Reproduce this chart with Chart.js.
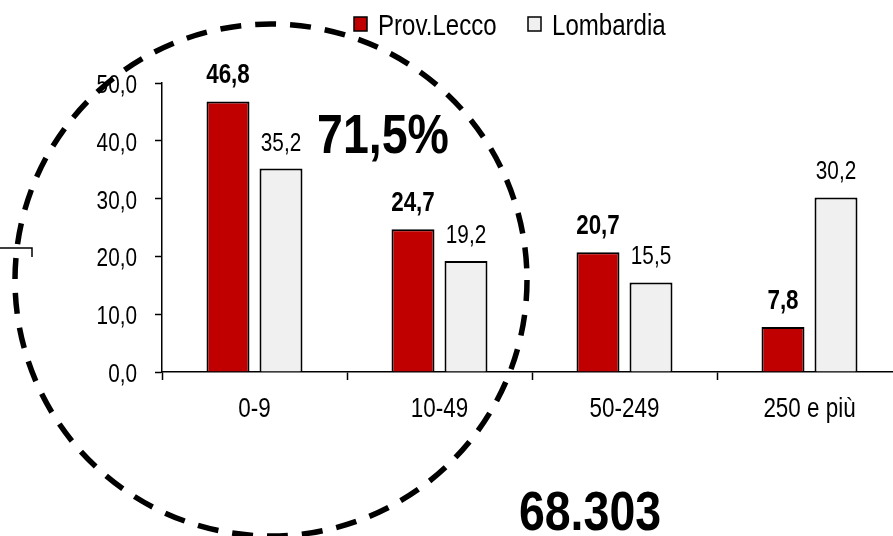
<!DOCTYPE html>
<html lang="it">
<head>
  <meta charset="UTF-8" />
  <title>Imprese per classe di addetti</title>
  <script src="https://cdn.jsdelivr.net/npm/chart.js"></script>
  <style>
    html, body {
      margin: 0;
      padding: 0;
      background: #ffffff;
      overflow: hidden;
    }
    #wrap {
      width: 902px;
      height: 536px;
    }
  </style>
</head>
<body>
  <div id="wrap"><canvas id="chart" width="902" height="536"></canvas></div>

  <script>
    const categories = ['0-9', '10-49', '50-249', '250 e più'];
    const lecco = [46.8, 24.7, 20.7, 7.8];
    const lombardia = [35.2, 19.2, 15.5, 30.2];
    const seriesNames = ['Prov.Lecco', 'Lombardia'];
    const yMin = 0, yMax = 50, yStep = 10;
    const shareText = '71,5%';
    const totalText = '68.303';

    // no Arial Narrow here: Liberation Sans squeezed horizontally
    const FONT = "'Liberation Sans', Arial, sans-serif";
    const NARROW = 0.83;
    const RED = '#C00000';
    const GREY = '#F0F0F0';

    const fmt = v => v.toFixed(1).replace('.', ',');

    function narrowText(ctx, text, x, y, font, align) {
      ctx.save();
      ctx.font = font;
      ctx.textAlign = align;
      ctx.textBaseline = 'alphabetic';
      ctx.fillStyle = '#000';
      ctx.translate(x, y);
      ctx.scale(NARROW, 1);
      ctx.fillText(text, 0, 0);
      ctx.restore();
    }

    // value labels above bars, axis labels
    const labels = {
      id: 'labels',
      afterDatasetsDraw(chart) {
        const ctx = chart.ctx;
        chart.data.datasets.forEach((ds, i) => {
          const font = i === 0 ? 'bold 27px ' + FONT : '25px ' + FONT;
          chart.getDatasetMeta(i).data.forEach((bar, j) => {
            narrowText(ctx, fmt(ds.data[j]), bar.x, bar.y - 18, font, 'center');
          });
        });

        const ys = chart.scales.y;
        ys.ticks.forEach(t => {
          narrowText(ctx, fmt(t.value), 137, ys.getPixelForValue(t.value) + 10, '25px ' + FONT, 'right');
        });
        const xs = chart.scales.x;
        categories.forEach((c, i) => {
          narrowText(ctx, c, xs.getPixelForValue(i), 417, '27px ' + FONT, 'center');
        });
      }
    };

    // legend, big numbers, dashed circle
    const decor = {
      id: 'decor',
      afterDraw(chart) {
        const ctx = chart.ctx;
        ctx.save();

        // legend
        const legendX = [354, 528];
        chart.data.datasets.forEach((ds, i) => {
          const x = legendX[i];
          ctx.fillStyle = ds.backgroundColor;
          ctx.fillRect(x, 17, 13, 14);
          ctx.strokeStyle = '#000';
          ctx.lineWidth = 1.5;
          ctx.strokeRect(x, 17, 13, 14);
          narrowText(ctx, ds.label, x + 24, 35, '29px ' + FONT, 'left');
        });

        // big numbers
        narrowText(ctx, shareText, 383, 153, 'bold 56px ' + FONT, 'center');
        narrowText(ctx, totalText, 590, 530, 'bold 56px ' + FONT, 'center');

        // small bracket on the left
        ctx.beginPath();
        ctx.strokeStyle = '#000';
        ctx.lineWidth = 1.5;
        ctx.moveTo(0, 248);
        ctx.lineTo(32, 248);
        ctx.lineTo(32, 257);
        ctx.stroke();

        // dashed circle
        ctx.beginPath();
        ctx.lineWidth = 5.5;
        ctx.setLineDash([21, 14]);
        ctx.arc(271, 280, 256, 0, Math.PI * 2);
        ctx.stroke();
        ctx.restore();
      }
    };

    new Chart(document.getElementById('chart'), {
      type: 'bar',
      data: {
        labels: categories,
        datasets: [
          {
            label: seriesNames[0],
            data: lecco,
            backgroundColor: RED,
            borderColor: '#000',
            borderWidth: 2
          },
          {
            label: seriesNames[1],
            data: lombardia,
            backgroundColor: GREY,
            borderColor: '#000',
            borderWidth: 2
          }
        ]
      },
      options: {
        responsive: false,
        animation: false,
        categoryPercentage: 0.573,
        barPercentage: 0.811,
        layout: {
          padding: { top: 83, bottom: 124, left: 0, right: 0 }
        },
        plugins: {
          legend: { display: false },
          tooltip: { enabled: false }
        },
        scales: {
          x: {
            afterFit: s => { s.height = 40; },
            grid: {
              drawOnChartArea: false,
              tickLength: 8,
              tickColor: '#000',
              tickWidth: 1.5
            },
            border: { color: '#000', width: 1.5 },
            ticks: {
              color: 'rgba(0,0,0,0)',
              font: { family: FONT, size: 12 }
            }
          },
          y: {
            min: yMin,
            max: yMax,
            afterFit: s => { s.width = 162; },
            grid: {
              drawOnChartArea: false,
              tickLength: 7,
              tickColor: '#000',
              tickWidth: 1.5
            },
            border: { color: '#000', width: 1.5 },
            ticks: {
              stepSize: yStep,
              color: 'rgba(0,0,0,0)',
              font: { family: FONT, size: 12 },
              callback: v => fmt(v)
            }
          }
        }
      },
      plugins: [labels, decor]
    });
  </script>
</body>
</html>
